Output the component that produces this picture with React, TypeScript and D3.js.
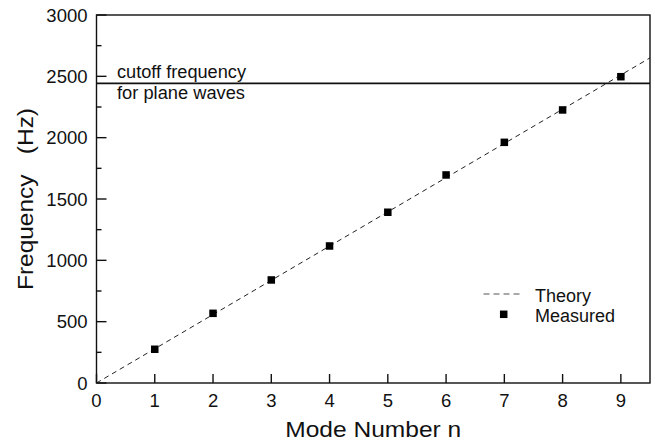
import React from "react";
import * as d3 from "d3";

const modes = [1, 2, 3, 4, 5, 6, 7, 8, 9];
const measured = [275, 568, 840, 1117, 1392, 1696, 1962, 2226, 2497];
const theorySlope = 279;
const cutoff = 2443;
const xTicks = [0, 1, 2, 3, 4, 5, 6, 7, 8, 9];
const yTicks = [0, 500, 1000, 1500, 2000, 2500, 3000];
const yMinorTicks = [250, 750, 1250, 1750, 2250, 2750];

const W = 655, H = 442;
const L = 96.5, R = 650, T = 15, B = 383;
const FONT = "'Liberation Sans', Arial, Helvetica, sans-serif";

export default function App() {
  const x = d3.scaleLinear().domain([0, 9.5]).range([L, R]);
  const y = d3.scaleLinear().domain([0, 3000]).range([B, T]);
  const line = d3.line<number>().x((d) => x(d)).y((d) => y(theorySlope * d));
  const ms = 7.5;
  return (
    <svg width={W} height={H} style={{ position: "absolute", left: 0, top: 0, background: "#fff" }} fontFamily={FONT}>
      <defs>
        <clipPath id="plot">
          <rect x={L} y={T} width={R - L} height={B - T} />
        </clipPath>
      </defs>
      <path d={line([0, 9.5]) || ""} fill="none" stroke="#222" strokeWidth={1} strokeDasharray="5,4" clipPath="url(#plot)" />
      <line x1={L} x2={R} y1={y(cutoff)} y2={y(cutoff)} stroke="#111" strokeWidth={1.6} />
      <text x={117} y={78} fontSize={17.5} fill="#111" textLength={129} lengthAdjust="spacingAndGlyphs">cutoff frequency</text>
      <text x={117} y={98.5} fontSize={17.5} fill="#111" textLength={128} lengthAdjust="spacingAndGlyphs">for plane waves</text>
      {modes.map((m, i) => (
        <rect key={m} x={x(m) - ms / 2} y={y(measured[i]) - ms / 2} width={ms} height={ms} fill="#000" />
      ))}
      <rect x={L} y={T} width={R - L} height={B - T} fill="none" stroke="#111" strokeWidth={1.4} />
      {yTicks.map((t) => (
        <g key={t}>
          <line x1={L} x2={L + 10} y1={y(t)} y2={y(t)} stroke="#111" strokeWidth={1.4} />
          <text x={87.5} y={y(t) + 6.5} fontSize={18.5} textAnchor="end" fill="#111">{t}</text>
        </g>
      ))}
      {yMinorTicks.map((t) => (
        <line key={t} x1={L} x2={L + 5} y1={y(t)} y2={y(t)} stroke="#111" strokeWidth={1.4} />
      ))}
      {xTicks.map((t) => (
        <g key={t}>
          <line x1={x(t)} x2={x(t)} y1={B} y2={B - 9} stroke="#111" strokeWidth={1.4} />
          <text x={x(t)} y={407} fontSize={18.5} textAnchor="middle" fill="#111">{t}</text>
        </g>
      ))}
      <text x={(L + R) / 2 - 88} y={436.5} fontSize={22} fill="#111" textLength={176} lengthAdjust="spacingAndGlyphs">Mode Number n</text>
      <text transform={`translate(33,290) rotate(-90)`} fontSize={22} fill="#111" textLength={182} lengthAdjust="spacingAndGlyphs" style={{ whiteSpace: "pre" }}>{"Frequency   (Hz)"}</text>
      <line x1={483.5} x2={521} y1={294} y2={294} stroke="#555" strokeWidth={1.2} strokeDasharray="6,4" />
      <text x={535} y={302.3} fontSize={18} fill="#111">Theory</text>
      <rect x={503.7 - ms / 2} y={314.3 - ms / 2} width={ms} height={ms} fill="#000" />
      <text x={535} y={322.3} fontSize={18} fill="#111">Measured</text>
    </svg>
  );
}
